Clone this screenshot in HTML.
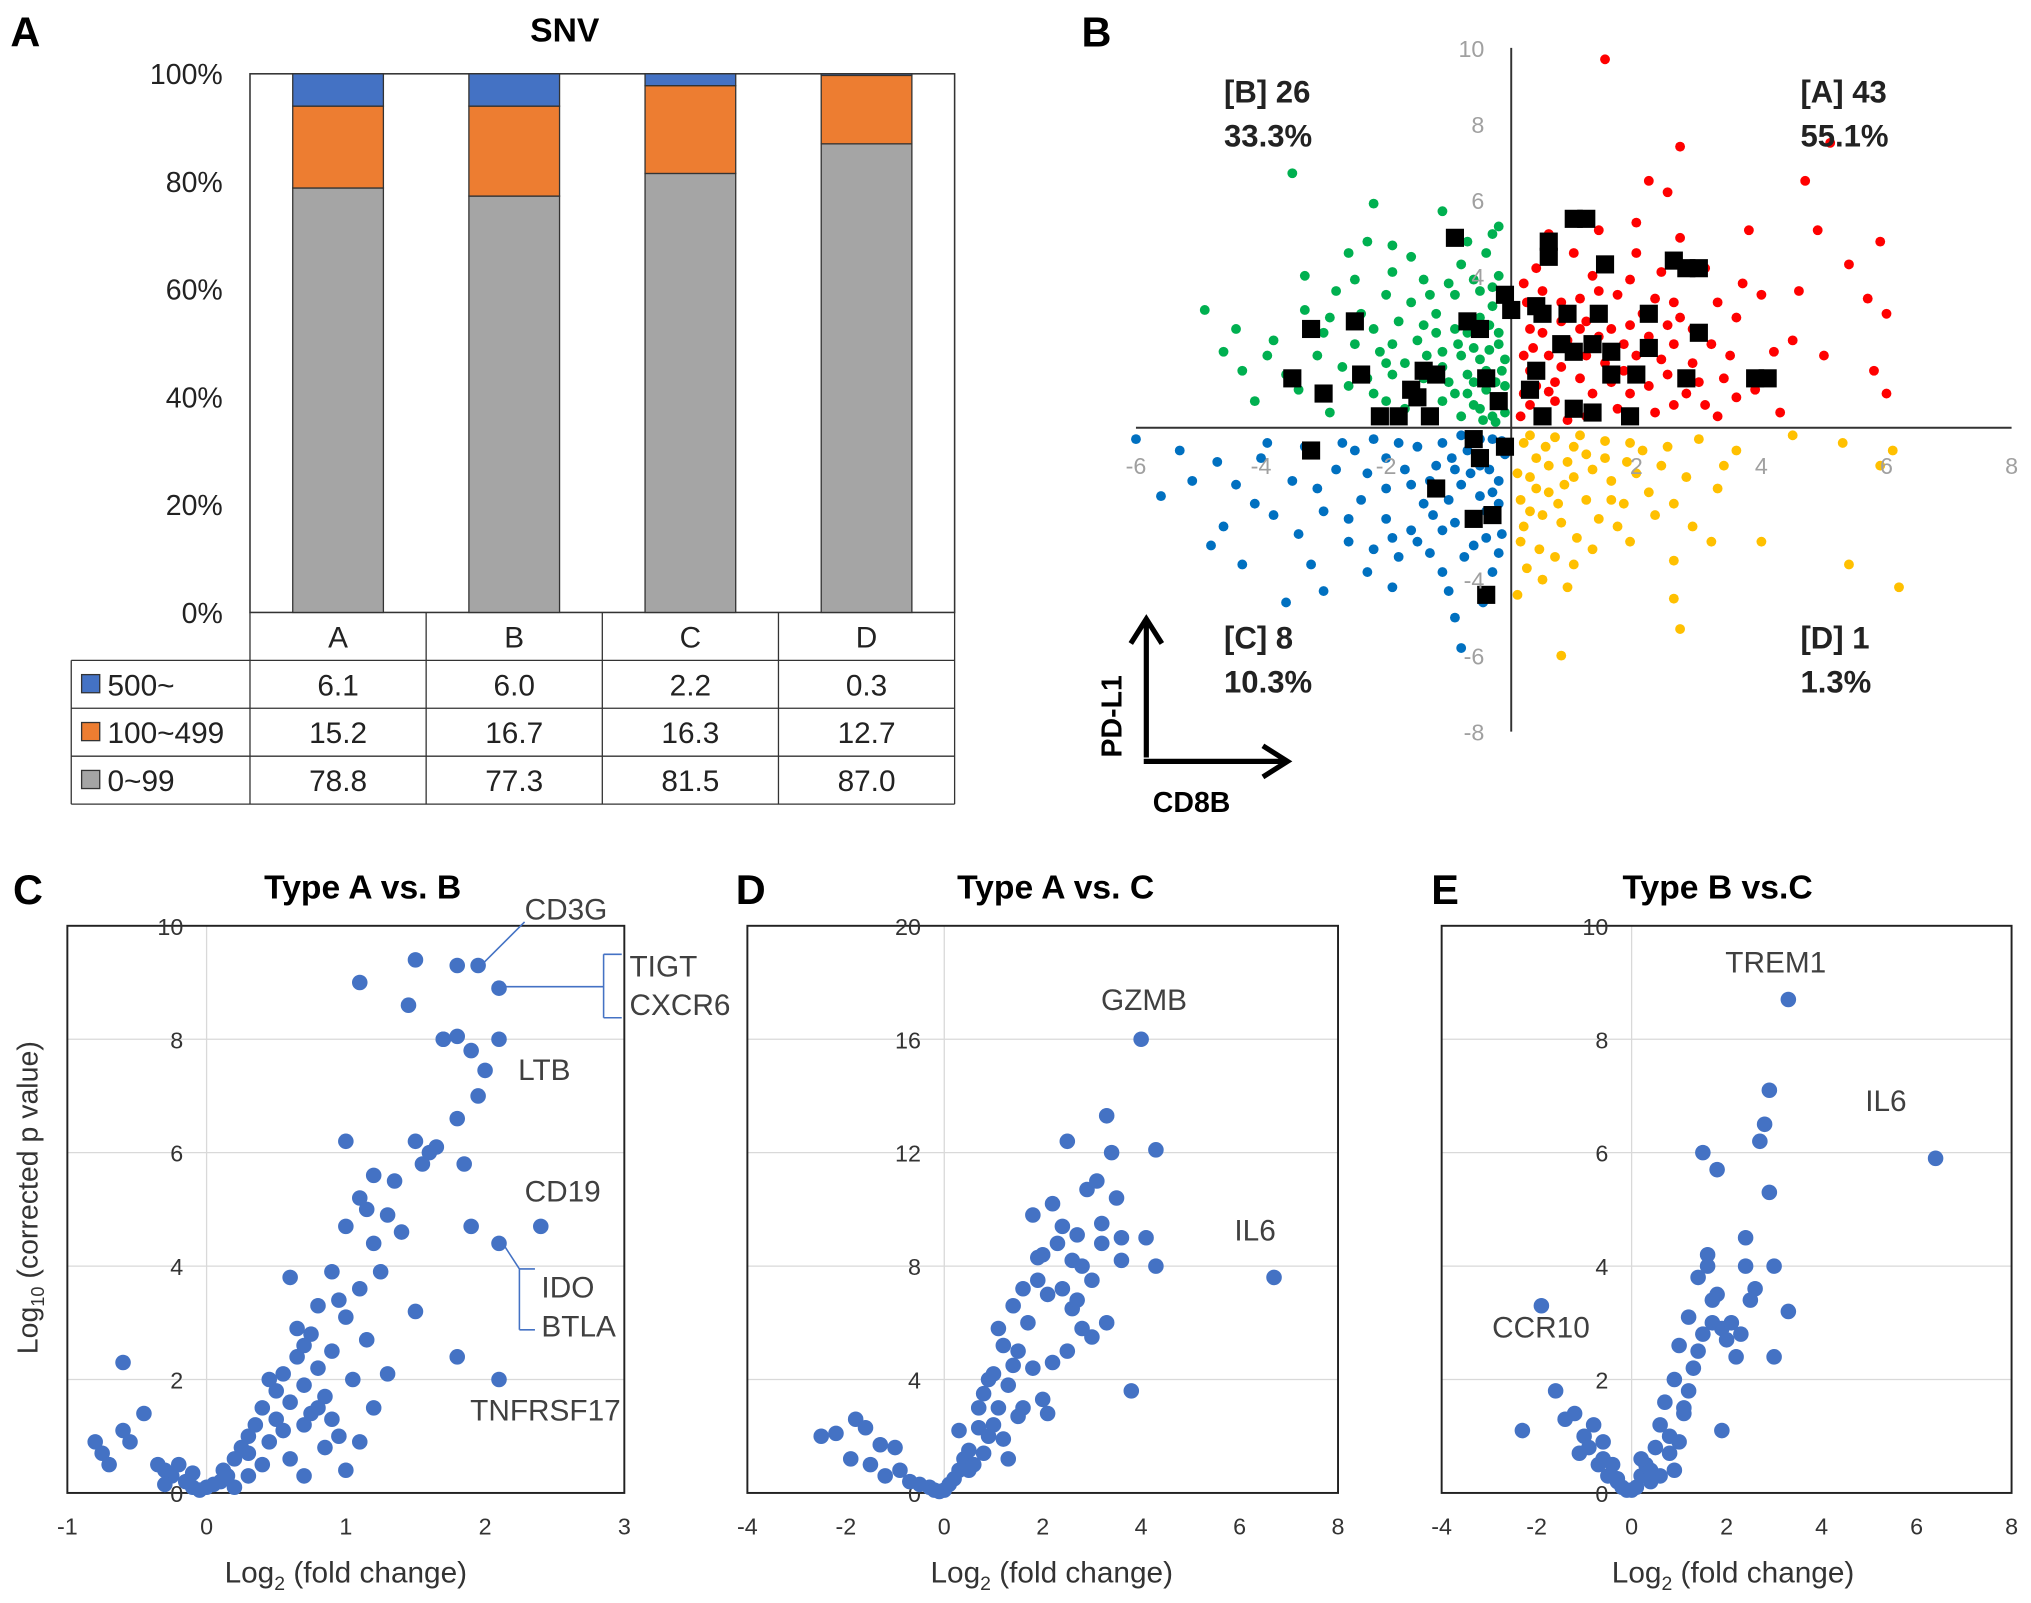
<!DOCTYPE html>
<html><head><meta charset="utf-8"><style>
html,body{margin:0;padding:0;background:#fff}
svg{display:block}
text{font-family:"Liberation Sans",sans-serif}
</style></head><body>
<svg id="fig" width="2031" height="1603" viewBox="0 0 1568 1238" preserveAspectRatio="none" xmlns="http://www.w3.org/2000/svg">
<rect width="1568" height="1238" fill="#fff"/>
<g id="pa"></g>
<g id="pb"></g>
<g id="pc"></g>
<g id="pd"></g>
<g id="pe"></g>
</svg>
<script>
// ---------- Panel A data ----------
const snvCategories = ["A","B","C","D"];
const snvLow = [78.8, 77.3, 81.5, 87.0];
const snvMid = [15.2, 16.7, 16.3, 12.7];
const snvHigh = [6.1, 6.0, 2.2, 0.3];
const snvTicks = [0,20,40,60,80,100];
const snvSeriesNames = ["500~","100~499","0~99"];

// ---------- Panel B data ----------
const bGreen = [[-3.5,6.7],[-2.2,5.9],[-1.1,5.7],[-0.3,5.1],[-2.3,4.9],[-2.6,4.6],[-1.9,4.8],[-3.3,4.0],[-2.8,3.6],[-2.0,3.5],[-1.4,3.9],[-0.8,4.3],[-0.4,4.6],[-0.2,4.0],[-4.9,3.1],[-4.6,2.0],[-4.3,1.5],[-3.8,2.3],[-3.0,2.5],[-2.5,2.2],[-1.8,2.8],[-1.2,3.0],[-0.7,2.5],[-0.3,3.2],[-4.1,0.7],[-3.4,1.0],[-2.9,0.4],[-2.3,1.3],[-1.7,1.7],[-1.0,1.2],[-0.5,1.8],[-0.2,2.2],[-0.6,0.6],[-0.3,0.3],[-1.3,0.4],[-2.0,0.7],[-0.9,0.9],[-0.4,1.0],[-0.15,1.5],[-1.5,2.3],[-2.7,1.6],[-3.6,1.4],[-0.5,3.6],[-1.1,2.0],[-0.2,0.8],[-0.7,1.4],[-1.6,1.0],[-2.4,3.0],[-0.9,3.5],[-0.35,2.7],[-0.1,0.4],[-0.45,0.2],[-1.2,2.5],[-2.1,2.0],[-3.1,1.9],[-0.6,2.1],[-0.25,1.2],[-0.8,0.3]];
const bGreen2 = [[-1.9,4.1],[-1.6,3.3],[-1.3,3.5],[-1.0,3.8],[-0.6,3.9],[-0.3,3.7],[-2.2,2.6],[-1.9,2.2],[-1.4,2.7],[-0.9,2.6],[-0.5,2.9],[-0.2,2.5],[-2.6,1.1],[-2.2,0.9],[-1.9,1.4],[-1.4,1.3],[-1.1,1.6],[-0.8,1.9],[-0.4,1.5],[-0.1,1.8],[-1.7,0.5],[-1.1,0.7],[-0.7,0.9],[-0.5,0.5],[-0.2,0.6],[-0.1,1.1],[-3.3,3.1],[-2.9,2.9],[-3.9,1.9],[-2.5,3.9],[-1.6,4.5],[-0.7,4.9],[-0.2,5.3],[-2.0,1.7],[-0.85,2.2],[-0.35,2.05],[-0.6,1.2],[-0.25,0.15],[-1.35,1.9],[-4.4,2.6]];
const bRed = [[1.5,9.7],[2.7,7.4],[5.1,7.5],[4.7,6.5],[2.2,6.5],[2.5,6.2],[3.8,5.2],[4.9,5.2],[5.9,4.9],[6.0,3.0],[5.4,4.3],[5.7,3.4],[4.6,3.6],[4.5,2.3],[5.0,1.9],[5.8,1.5],[6.0,0.9],[4.0,3.5],[3.6,2.9],[3.1,4.2],[2.7,5.0],[2.0,5.4],[1.4,5.2],[0.6,5.1],[0.4,4.2],[0.2,3.8],[0.8,3.3],[1.2,2.8],[1.8,2.2],[2.4,1.8],[3.0,1.2],[3.6,0.8],[4.3,0.4],[3.3,0.3],[2.6,0.6],[1.9,0.9],[1.1,1.3],[0.6,1.9],[0.3,2.6],[0.2,0.9],[0.5,0.4],[1.0,0.6],[1.5,1.7],[2.1,3.0],[2.9,2.6],[1.3,4.0],[0.9,2.3],[0.3,1.5],[1.7,3.5],[2.4,4.1],[3.5,1.9],[4.1,1.4],[0.15,0.3],[0.7,1.2],[1.2,1.9],[2.2,1.1],[0.4,3.1],[1.6,2.6],[2.6,3.3],[0.2,1.9],[0.9,0.2]];
const bRed2 = [[0.5,2.5],[0.8,2.8],[1.1,3.4],[1.4,3.6],[1.9,3.9],[2.3,3.4],[2.7,2.9],[3.2,2.2],[2.9,1.7],[2.5,1.4],[2.0,1.9],[1.6,1.2],[1.3,0.9],[0.8,1.6],[0.4,1.1],[0.3,0.6],[0.7,0.7],[1.2,0.3],[1.7,0.5],[2.3,0.4],[2.8,0.9],[3.1,0.6],[3.9,1.0],[4.2,2.0],[3.3,3.3],[2.0,4.6],[1.0,4.6],[0.5,3.6],[0.25,3.3],[1.9,2.7],[2.2,2.4],[1.4,2.4],[0.6,0.95],[2.6,2.2],[3.7,3.8],[1.1,2.6],[0.35,2.1],[1.8,1.5],[2.5,2.7],[3.4,1.3]];
const bBlue = [[-6.0,-0.3],[-5.6,-1.8],[-5.1,-1.4],[-4.6,-2.6],[-4.8,-3.1],[-4.3,-3.6],[-3.6,-4.6],[-3.0,-4.3],[-2.3,-3.8],[-1.0,-4.3],[-0.8,-5.8],[-5.3,-0.6],[-4.0,-0.8],[-3.5,-1.4],[-3.0,-2.2],[-2.6,-3.0],[-2.0,-2.4],[-1.6,-1.5],[-1.2,-1.0],[-0.7,-0.6],[-0.3,-0.3],[-0.2,-1.4],[-0.4,-2.2],[-0.6,-3.1],[-0.9,-2.5],[-1.3,-3.3],[-1.8,-3.4],[-2.4,-1.9],[-2.8,-1.1],[-3.3,-0.5],[-2.0,-0.8],[-1.5,-0.5],[-1.0,-1.9],[-0.5,-1.0],[-0.15,-2.8],[-0.3,-3.8],[-1.6,-2.7],[-2.2,-0.3],[-3.8,-2.3],[-0.8,-0.2],[-1.9,-4.2],[-0.1,-0.7],[-1.1,-3.8],[-4.4,-1.5],[-0.5,-1.8],[-1.3,-1.4],[-0.2,-2.0],[-2.5,-0.6],[-0.9,-1.1]];
const bBlue2 = [[-3.1,-1.6],[-2.7,-0.4],[-2.3,-1.2],[-2.0,-1.6],[-1.8,-0.4],[-1.4,-2.0],[-1.1,-0.4],[-0.8,-1.5],[-0.6,-2.4],[-0.35,-1.1],[-0.15,-0.35],[-0.5,-0.3],[-1.9,-2.9],[-1.5,-3.0],[-1.1,-2.7],[-0.75,-3.4],[-0.4,-2.9],[-0.2,-3.3],[-2.6,-2.4],[-3.4,-2.8],[-4.1,-2.0],[-3.9,-0.4],[-4.7,-0.9],[-1.7,-1.1],[-1.25,-2.3],[-0.95,-0.8],[-0.3,-1.7],[-0.65,-1.2],[-2.2,-3.2],[-0.45,-4.6],[-0.9,-5.0],[-3.2,-3.6]];
const bYellow = [[0.8,-6.0],[2.7,-5.3],[2.6,-4.5],[4.0,-3.0],[5.4,-3.6],[6.2,-4.2],[5.3,-0.4],[6.1,-0.6],[5.9,-1.0],[3.3,-1.6],[2.9,-2.6],[2.6,-3.5],[1.8,-2.0],[1.3,-3.2],[0.9,-4.2],[0.5,-4.0],[0.1,-4.4],[0.3,-2.2],[0.6,-1.0],[1.0,-0.5],[1.5,-0.8],[2.0,-1.2],[2.5,-0.5],[3.0,-0.3],[3.6,-0.6],[0.2,-0.4],[0.4,-1.6],[0.8,-2.5],[1.2,-1.9],[1.6,-1.4],[2.3,-2.3],[0.7,-3.4],[0.15,-3.0],[1.1,-0.2],[2.1,-0.6],[1.9,-3.0],[0.4,-0.8],[2.8,-1.3],[3.2,-3.0],[0.1,-1.2],[0.6,-1.7],[1.0,-1.3],[1.4,-2.4],[0.3,-0.2],[0.9,-0.9]];
const bYellow2 = [[0.3,-1.3],[0.55,-0.5],[0.75,-2.0],[1.05,-2.9],[1.3,-1.1],[1.5,-0.35],[1.7,-2.6],[1.85,-0.9],[2.2,-1.7],[2.4,-1.0],[0.2,-2.6],[0.45,-3.2],[0.25,-3.7],[0.85,-1.5],[1.2,-0.7],[0.5,-2.3],[1.6,-1.9],[2.6,-2.0],[1.0,-3.6],[0.15,-1.9],[0.7,-0.25],[1.9,-0.4],[3.4,-1.0],[4.5,-0.2]];
const bBlack = [[1.0,5.5],[1.2,5.5],[0.6,4.9],[0.6,4.5],[-0.9,5.0],[1.5,4.3],[2.6,4.4],[2.8,4.2],[3.0,4.2],[-0.1,3.5],[0.0,3.1],[0.4,3.2],[0.5,3.0],[0.9,3.0],[1.4,3.0],[2.2,3.0],[3.0,2.5],[-3.2,2.6],[-2.5,2.8],[-0.7,2.8],[-0.5,2.6],[0.8,2.2],[1.0,2.0],[1.3,2.2],[1.6,2.0],[2.2,2.1],[-1.4,1.5],[-1.2,1.4],[-0.4,1.3],[0.4,1.5],[0.3,1.0],[1.6,1.4],[2.0,1.4],[-3.5,1.3],[-2.4,1.4],[-3.0,0.9],[-1.6,1.0],[-1.5,0.8],[2.8,1.3],[3.9,1.3],[4.1,1.3],[-0.2,0.7],[1.0,0.5],[-1.8,0.3],[-2.1,0.3],[-1.3,0.3],[-0.5,-0.8],[0.5,0.3],[1.3,0.4],[-0.1,-0.5],[-3.2,-0.6],[-1.2,-1.6],[-0.6,-2.4],[-0.3,-2.3],[-0.4,-4.4],[1.9,0.3],[-0.6,-0.3]];

// ---------- Panel C data ----------
const cX = [-0.8,-0.75,-0.7,-0.6,-0.55,-0.6,-0.45,-0.35,-0.3,-0.25,-0.2,-0.15,-0.1,-0.05,0,0.05,0.1,0.12,0.15,0.2,0.25,0.3,0.3,0.35,0.4,0.45,0.5,0.5,0.55,0.6,0.6,0.65,0.7,0.7,0.75,0.8,0.8,0.85,0.9,0.9,0.95,1.0,1.0,1.05,1.1,1.1,1.15,1.2,1.2,1.25,1.3,1.35,1.4,0.4,0.55,0.7,0.85,1.0,1.1,0.65,0.8,0.95,1.2,1.5,1.55,1.65,1.8,1.85,1.95,2.0,2.1,1.7,1.8,1.9,1.45,2.1,1.95,1.8,1.5,1.1,1.6,1.7,1.9,2.4,2.1,1.5,1.8,2.1,0.7,1.3,1.0,0.3,0.2,-0.3,-0.1,0.9,0.6,1.15,0.45,0.75];
const cY = [0.9,0.7,0.5,1.1,0.9,2.3,1.4,0.5,0.4,0.3,0.5,0.2,0.1,0.05,0.1,0.15,0.2,0.4,0.3,0.6,0.8,1.0,0.3,1.2,1.5,0.9,1.8,1.3,2.1,1.6,0.6,2.4,1.9,1.2,2.8,2.2,3.3,1.7,2.5,3.9,1.0,3.1,4.7,2.0,3.6,5.2,2.7,4.4,5.6,3.9,4.9,5.5,4.6,0.5,1.1,0.3,0.8,0.4,0.9,2.9,1.5,3.4,1.5,6.2,5.8,6.1,6.6,5.8,7.0,7.45,8.0,8.0,8.05,7.8,8.6,8.9,9.3,9.3,9.4,9.0,6.0,8.0,4.7,4.7,4.4,3.2,2.4,2.0,2.6,2.1,6.2,0.7,0.1,0.15,0.35,1.3,3.8,5.0,2.0,1.4];

// ---------- Panel D data ----------
const dX = [-2.5,-2.2,-1.8,-1.6,-1.3,-1.0,-1.9,-1.5,-1.2,-0.9,-0.7,-0.5,-0.3,-0.2,-0.1,0,0.1,0.2,0.3,0.4,0.5,0.6,0.7,0.8,0.9,1.0,1.1,1.2,1.3,1.4,1.5,1.6,1.7,1.8,1.9,2.0,2.1,2.2,2.3,2.4,2.5,2.6,2.7,2.8,2.9,3.0,3.1,3.2,3.3,3.4,3.5,3.6,3.8,4.0,4.1,4.3,4.3,6.7,2.6,3.3,3.0,2.5,1.8,2.0,1.5,1.2,0.8,0.5,1.0,1.6,2.2,2.8,3.2,2.4,1.4,0.7,0.3,1.9,2.7,3.6,1.1,0.9,1.3,2.1];
const dY = [2.0,2.1,2.6,2.3,1.7,1.6,1.2,1.0,0.6,0.8,0.4,0.3,0.2,0.1,0.05,0.1,0.3,0.5,0.8,1.2,1.5,1.0,2.3,3.5,2.0,4.2,3.0,5.2,3.8,6.6,5.0,7.2,6.0,9.8,7.5,8.4,7.0,10.2,8.8,9.4,12.4,8.2,9.1,8.0,10.7,7.5,11.0,8.8,13.3,12.0,10.4,9.0,3.6,16.0,9.0,12.1,8.0,7.6,6.5,6.0,5.5,5.0,4.4,3.3,2.7,1.9,1.4,0.8,2.4,3.0,4.6,5.8,9.5,7.2,4.5,3.0,2.2,8.3,6.8,8.2,5.8,4.0,1.2,2.8];

// ---------- Panel E data ----------
const eX = [-2.3,-1.9,-1.6,-1.4,-1.2,-1.0,-0.9,-0.8,-0.7,-0.6,-0.5,-0.4,-0.3,-0.2,-0.1,0,0.1,0.2,0.3,0.4,0.5,0.6,0.7,0.8,0.9,1.0,1.1,1.2,1.3,1.4,1.5,1.6,1.7,1.8,1.9,2.0,2.1,2.2,2.4,2.6,2.7,2.8,2.9,3.0,3.0,3.3,3.3,6.4,2.9,2.4,1.8,1.5,1.9,1.2,1.0,0.8,0.6,1.4,1.7,2.3,1.1,0.9,0.4,0.2,-0.6,-1.1,-0.3,1.6,2.5];
const eY = [1.1,3.3,1.8,1.3,1.4,1.0,0.8,1.2,0.5,0.6,0.3,0.5,0.2,0.1,0.05,0.05,0.1,0.3,0.5,0.4,0.8,1.2,1.6,1.0,2.0,2.6,1.5,3.1,2.2,3.8,2.8,4.0,3.4,3.5,2.9,2.7,3.0,2.4,4.5,3.6,6.2,6.5,7.1,4.0,2.4,3.2,8.7,5.9,5.3,4.0,5.7,6.0,1.1,1.8,0.9,0.7,0.3,2.5,3.0,2.8,1.4,0.4,0.2,0.6,0.9,0.7,0.25,4.2,3.4];

const NS = "http://www.w3.org/2000/svg";
function el(parent, tag, attrs, txt){
  const e = document.createElementNS(NS, tag);
  for (const k in attrs) e.setAttribute(k, attrs[k]);
  if (txt !== undefined) e.textContent = txt;
  parent.appendChild(e);
  return e;
}

// ===== Panel A =====
(function(){
  const g = document.getElementById('pa');
  const L=193, R=737, T=57, B=473;
  const yS = v => B - (v/100)*(B-T);
  const colW = (R-L)/snvCategories.length;
  const xC = i => L + colW*(i+0.5);
  let t;
  t = el(g,'text',{x:8,y:36,'font-size':32,'font-weight':'bold'},'A');
   
  t = el(g,'text',{x:436,y:32,'font-size':26,'font-weight':'bold','text-anchor':'middle'},'SNV');
   
  const frame = el(g,'rect',{x:L,y:T,width:R-L,height:B-T,fill:'none',stroke:'#333','stroke-width':1.2});
   
  snvTicks.forEach(v=>{
    const tk = el(g,'text',{x:172,y:yS(v)+8,'font-size':22,'text-anchor':'end',fill:'#222'},v+'%');
     
  });
  const bw = 70;
  snvCategories.forEach((c,i)=>{
    const segs = [[0,snvLow[i],'#a5a5a5'],[snvLow[i],snvLow[i]+snvMid[i],'#ed7d31'],[snvLow[i]+snvMid[i],Math.min(100,snvLow[i]+snvMid[i]+snvHigh[i]),'#4472c4']];
    const names=['bar-low','bar-mid','bar-high'];
    segs.forEach((s,k)=>{
      const r = el(g,'rect',{x:xC(i)-bw/2,y:yS(s[1]),width:bw,height:yS(s[0])-yS(s[1]),fill:s[2],stroke:'#333','stroke-width':1});
       
    });
  });
  const rowsY=[473,510,547,584,621];
  el(g,'line',{x1:193,y1:473,x2:193,y2:621,stroke:'#333'});
  el(g,'line',{x1:R,y1:473,x2:R,y2:621,stroke:'#333'});
  el(g,'line',{x1:55,y1:510,x2:55,y2:621,stroke:'#333'});
  for(let i=1;i<4;i++) el(g,'line',{x1:L+colW*i,y1:473,x2:L+colW*i,y2:621,stroke:'#333'});
  el(g,'line',{x1:55,y1:510,x2:R,y2:510,stroke:'#333'});
  [547,584,621].forEach(y=>el(g,'line',{x1:55,y1:y,x2:R,y2:y,stroke:'#333'}));
  snvCategories.forEach((c,i)=>{
    const h = el(g,'text',{x:xC(i),y:500,'font-size':23,'text-anchor':'middle',fill:'#222'},c);
     
  });
  const rowsVals=[snvHigh,snvMid,snvLow], rowCols=['#4472c4','#ed7d31','#a5a5a5'];
  rowsVals.forEach((arr,r)=>{
    const yy = rowsY[r+1];
    const sw = el(g,'rect',{x:63,y:yy+11,width:14,height:14,fill:rowCols[r],stroke:'#333','stroke-width':1});
     
    const lb = el(g,'text',{x:83,y:yy+27,'font-size':23,fill:'#222'},snvSeriesNames[r]);
     
    arr.forEach((v,i)=>{
      const tv = el(g,'text',{x:xC(i),y:yy+27,'font-size':23,'text-anchor':'middle',fill:'#222'},v.toFixed(1));
       
    });
  });
})();

// ===== Panel B =====
(function(){
  const g = document.getElementById('pb');
  const x0=877, x1=1553, y0=37, y1=565;
  const xS = v => x0 + (v+6)/14*(x1-x0);
  const yS = v => y1 - (v+8)/18*(y1-y0);
  let t = el(g,'text',{x:835,y:36,'font-size':32,'font-weight':'bold'},'B');
   
  const ax = el(g,'line',{x1:x0,y1:yS(0),x2:x1,y2:yS(0),stroke:'#333','stroke-width':1.5});
   
  const ay = el(g,'line',{x1:xS(0),y1:y0,x2:xS(0),y2:y1,stroke:'#333','stroke-width':1.5});
   
  const pts = (arr,col,name)=>arr.forEach(p=>{
    const c = el(g,'circle',{cx:xS(p[0]),cy:yS(p[1]),r:3.8,fill:col});
     
  });
  pts(bGreen.concat(bGreen2),'#00b050','point-quadrant-b');
  pts(bRed.concat(bRed2),'#ff0000','point-quadrant-a');
  pts(bBlue.concat(bBlue2),'#0070c0','point-quadrant-c');
  pts(bYellow.concat(bYellow2),'#ffc000','point-quadrant-d');
  bBlack.forEach(p=>{
    const s = el(g,'rect',{x:xS(p[0])-7,y:yS(p[1])-7,width:14,height:14,fill:'#000'});
     
  });
  [-6,-4,-2,2,4,6,8].forEach(v=>{
    const tk = el(g,'text',{x:xS(v),y:366,'font-size':18,'text-anchor':'middle',fill:'#a0a0a0'},v);
     
  });
  [10,8,6,4,-4,-6,-8].forEach(v=>{
    const tk = el(g,'text',{x:1146,y:yS(v)+7,'font-size':18,'text-anchor':'end',fill:'#a0a0a0'},v);
     
  });
  const q = [[945,79,'[B] 26','33.3%','quadrant-b-label'],[1390,79,'[A] 43','55.1%','quadrant-a-label'],[945,501,'[C] 8','10.3%','quadrant-c-label'],[1390,501,'[D] 1','1.3%','quadrant-d-label']];
  q.forEach(a=>{
    const tt = el(g,'text',{x:a[0],y:a[1],'font-size':24,'font-weight':'bold',fill:'#222'});
     
    el(tt,'tspan',{x:a[0],dy:0},a[2]); el(tt,'tspan',{x:a[0],dy:34},a[3]);
  });
  el(g,'path',{d:'M885,585 L885,480 M873,497 L885,478 L897,497',stroke:'#000','stroke-width':4,fill:'none'});
  el(g,'path',{d:'M883,588 L992,588 M975,576 L994,588 L975,600',stroke:'#000','stroke-width':4,fill:'none'});
  t = el(g,'text',{x:0,y:0,'font-size':22,'font-weight':'bold','transform':'translate(866,585) rotate(-90)'},'PD-L1');
   
  t = el(g,'text',{x:890,y:627,'font-size':22,'font-weight':'bold'},'CD8B');
   
})();

// ===== Volcano panels =====
function volcano(id, letter, letterX, title, titleX, L, R, xmin, xmax, xstep, ymax, ystep, xs, ys, labels, xlabelX){
  const g = document.getElementById(id);
  const T=715, B=1153;
  const xS = v => L + (v-xmin)/(xmax-xmin)*(R-L);
  const yS = v => B - v/ymax*(B-T);
  let t = el(g,'text',{x:letterX,y:698,'font-size':32,'font-weight':'bold'},letter);
   
  t = el(g,'text',{x:titleX,y:694,'font-size':26,'font-weight':'bold','text-anchor':'middle'},title);
   
  for(let v=ystep; v<ymax; v+=ystep){
    const gl = el(g,'line',{x1:L,y1:yS(v),x2:R,y2:yS(v),stroke:'#d9d9d9','stroke-width':1});
     
  }
  const vl = el(g,'line',{x1:xS(0),y1:T,x2:xS(0),y2:B,stroke:'#d9d9d9','stroke-width':1});
   
  const fr = el(g,'rect',{x:L,y:T,width:R-L,height:B-T,fill:'none',stroke:'#222','stroke-width':1.5});
   
  for(let v=0; v<=ymax; v+=ystep){
    const tk = el(g,'text',{x:xS(0)-18,y:yS(v)+7,'font-size':18,'text-anchor':'end',fill:'#333'},v);
     
  }
  for(let v=xmin; v<=xmax; v+=xstep){
    const tk = el(g,'text',{x:xS(v),y:1185,'font-size':18,'text-anchor':'middle',fill:'#333'},v);
     
  }
  xs.forEach((x,i)=>{
    const c = el(g,'circle',{cx:xS(x),cy:yS(ys[i]),r:6,fill:'#4472c4'});
     
  });
  labels.forEach(a=>{
    const lt = el(g,'text',{x:a[0],y:a[1],'font-size':23,fill:'#404040'},a[2]);
     
  });
  const xt = el(g,'text',{x:xlabelX,y:1222,'font-size':23,'text-anchor':'middle',fill:'#333'});
   
  el(xt,'tspan',{},'Log'); el(xt,'tspan',{'font-size':15,dy:6},'2'); el(xt,'tspan',{dy:-6},' (fold change)');
  return g;
}
volcano('pc','C',10,'Type A vs. B',280,52,482,-1,3,1,10,2,cX,cY,
  [[405,710,'CD3G'],[486,754,'TIGT'],[486,784,'CXCR6'],[400,834,'LTB'],[405,928,'CD19'],[418,1002,'IDO'],[418,1032,'BTLA'],[363,1097,'TNFRSF17']],267);
volcano('pd','D',568,'Type A vs. C',815,577,1033,-4,8,2,20,4,dX,dY,
  [[850,780,'GZMB'],[953,958,'IL6']],812);
volcano('pe','E',1105,'Type B vs.C',1326,1113,1553,-4,8,2,10,2,eX,eY,
  [[1332,751,'TREM1'],[1440,858,'IL6'],[1152,1033,'CCR10']],1338);
(function(){
  const g=document.getElementById('pc');
  const s={stroke:'#4472c4','stroke-width':1.2,fill:'none'};
  const p1=el(g,'path',Object.assign({d:'M373,744 L405,712'},s));
   
  const p2=el(g,'path',Object.assign({d:'M383,762 L466,762 M466,737 L466,786 M466,737 L480,737 M466,786 L480,786'},s));
   
  const p3=el(g,'path',Object.assign({d:'M388,960 L401,980 M401,980 L401,1027 M401,980 L413,980 M401,1027 L413,1027'},s));
   
  const yt = el(g,'text',{x:0,y:0,'font-size':22,fill:'#333','text-anchor':'middle',transform:'translate(29,925) rotate(-90)'});
   
  el(yt,'tspan',{},'Log'); el(yt,'tspan',{'font-size':14,dy:5},'10'); el(yt,'tspan',{dy:-5},' (corrected p value)');
})();
</script>
</body></html>
